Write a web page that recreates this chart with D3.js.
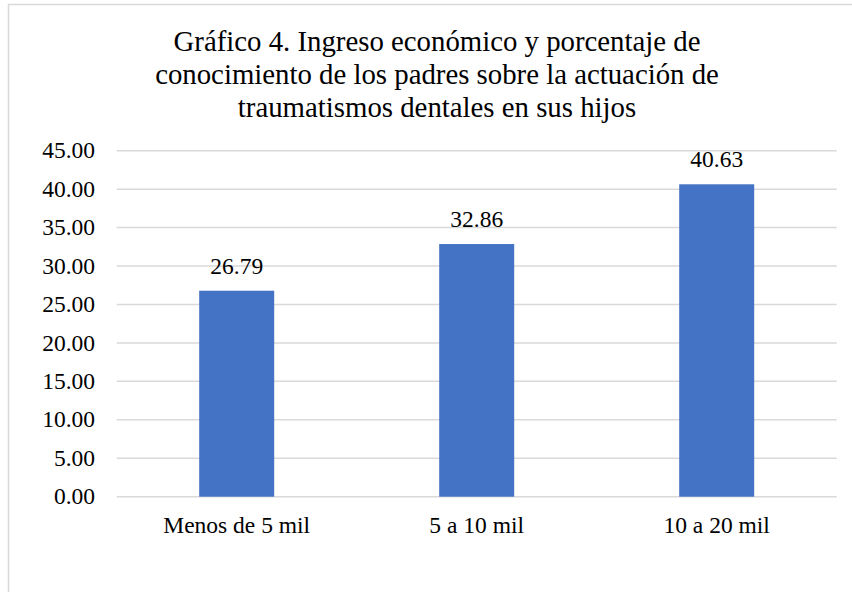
<!DOCTYPE html>
<html>
<head>
<meta charset="utf-8">
<script src="https://cdn.jsdelivr.net/npm/d3@7"></script>
</head>
<body style="margin:0">
<script>
// Income brackets and the share of parents who know how to act on dental trauma
const categories = ["Menos de 5 mil", "5 a 10 mil", "10 a 20 mil"];
const values = [26.79, 32.86, 40.63];
const yTicks = [0, 5, 10, 15, 20, 25, 30, 35, 40, 45];
const titleLines = [
  "Gráfico 4. Ingreso económico y porcentaje de",
  "conocimiento de los padres sobre la actuación de",
  "traumatismos dentales en sus hijos"
];

const W = 852, H = 592;
const FONT = "'Liberation Serif', Tinos, 'Times New Roman', serif";
const plot = { left: 116.7, right: 836.7, top: 150.7, bottom: 496.7 };

const svg = d3.select("body").append("svg")
  .attr("width", W).attr("height", H)
  .style("display", "block")
  .style("font-family", FONT);

svg.append("rect").attr("width", W).attr("height", H).attr("fill", "#fff");

// chart-area frame (left and top edges)
svg.append("path")
  .attr("d", `M8.5,${H} L8.5,4.5 L${W},4.5`)
  .attr("fill", "none")
  .attr("stroke", "#d9d9d9")
  .attr("stroke-width", 1.5);

const y = d3.scaleLinear().domain([0, 45]).range([plot.bottom, plot.top]);
const x = d3.scaleBand().domain(categories)
  .range([plot.left, plot.right])
  .paddingInner(0.6875)
  .paddingOuter(0.34375);

// horizontal gridlines
svg.append("g").selectAll("line").data(yTicks).join("line")
  .attr("x1", plot.left).attr("x2", plot.right)
  .attr("y1", d => y(d)).attr("y2", d => y(d))
  .attr("stroke", "#d9d9d9").attr("stroke-width", 1.5);

// y-axis labels
svg.append("g").selectAll("text").data(yTicks).join("text")
  .attr("x", 95).attr("y", d => y(d) + 7.6)
  .attr("text-anchor", "end")
  .style("font-family", FONT).style("font-size", "23.5px")
  .text(d => d.toFixed(2));

// bars
svg.append("g").selectAll("rect").data(values).join("rect")
  .attr("x", (d, i) => x(categories[i]))
  .attr("y", d => y(d))
  .attr("width", x.bandwidth())
  .attr("height", d => y(0) - y(d))
  .attr("fill", "#4472C4");

// value labels
svg.append("g").selectAll("text").data(values).join("text")
  .attr("x", (d, i) => x(categories[i]) + x.bandwidth() / 2)
  .attr("y", d => y(d) - 17)
  .attr("text-anchor", "middle")
  .style("font-family", FONT).style("font-size", "23.5px")
  .text(d => d.toFixed(2));

// category labels
svg.append("g").selectAll("text").data(categories).join("text")
  .attr("x", d => x(d) + x.bandwidth() / 2)
  .attr("y", 532.7)
  .attr("text-anchor", "middle")
  .style("font-family", FONT).style("font-size", "23.5px")
  .text(d => d);

// title
svg.append("g").selectAll("text").data(titleLines).join("text")
  .attr("x", 437)
  .attr("y", (d, i) => 51.3 + i * 33)
  .attr("text-anchor", "middle")
  .style("font-family", FONT).style("font-size", "28.8px")
  .text(d => d);
</script>
</body>
</html>
